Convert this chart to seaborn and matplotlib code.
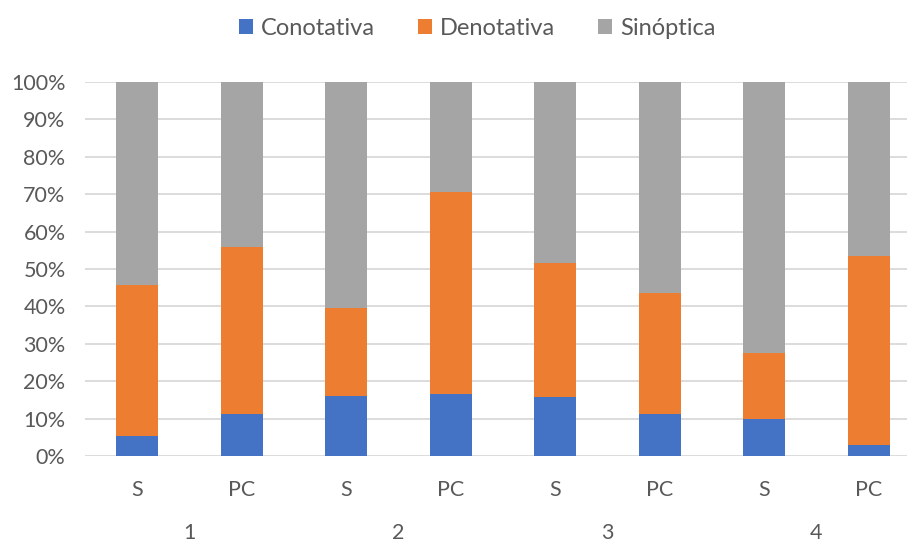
import matplotlib
matplotlib.use("Agg")
import matplotlib.pyplot as plt
from matplotlib.patches import Patch
from matplotlib.ticker import PercentFormatter
import numpy as np
import pandas as pd
import seaborn as sns

# Shares per group and respondent type (percent)
groups = ["1", "1", "2", "2", "3", "3", "4", "4"]
types = ["S", "PC", "S", "PC", "S", "PC", "S", "PC"]
conotativa = [5.4, 11.2, 16.0, 16.7, 15.7, 11.2, 9.8, 2.9]
denotativa = [40.3, 44.6, 23.7, 54.0, 35.9, 32.3, 17.7, 50.5]
sinoptica = [54.3, 44.2, 60.3, 29.3, 48.4, 56.5, 72.5, 46.6]
group_labels = ["1", "2", "3", "4"]
series_names = ["Conotativa", "Denotativa", "Sinóptica"]
colors = ["#4472C4", "#ED7D31", "#A5A5A5"]

sns.set_theme(style="white")
plt.rcParams["font.family"] = ["Lato", "DejaVu Sans"]
text_color = "#595959"

df = pd.DataFrame({
    "pos": range(len(types)),
    "group": groups,
    "type": types,
    "Conotativa": conotativa,
    "Denotativa": denotativa,
    "Sinóptica": sinoptica,
})
totals = df[series_names].sum(axis=1)
shares = df[series_names].div(totals, axis=0)
cum = shares.cumsum(axis=1)

fig = plt.figure(figsize=(9.07, 5.42), dpi=100)
ax = fig.add_axes([85 / 907, 86 / 542, 836 / 907, 374 / 542])

# Draw stacks from the top layer down so lower segments overlay upper ones
for name, color in reversed(list(zip(series_names, colors))):
    sns.barplot(x=df["pos"], y=cum[name], color=color, width=0.4,
                saturation=1, linewidth=0, edgecolor="none", ax=ax, zorder=3)

ax.set_ylim(0, 1)
ax.set_xlim(-0.5, 7.5)
ax.yaxis.set_major_locator(plt.MultipleLocator(0.1))
ax.yaxis.set_major_formatter(PercentFormatter(1.0, decimals=0))
ax.grid(axis="y", color="#D9D9D9", linewidth=1.3, zorder=0)
ax.set_axisbelow(True)
for side in ["top", "right", "left", "bottom"]:
    ax.spines[side].set_visible(False)
ax.set_xlabel("")
ax.set_ylabel("")
ax.set_xticks(range(len(types)))
ax.set_xticklabels(types)
ax.tick_params(axis="both", length=0, labelsize=15.5, labelcolor=text_color)
ax.tick_params(axis="x", pad=17)
ax.tick_params(axis="y", pad=14)

# Group labels beneath each S/PC pair
for i, g in enumerate(group_labels):
    ax.text(2 * i + 0.5, -0.205, g, transform=ax.get_xaxis_transform(),
            ha="center", va="center", fontsize=15.5, color=text_color)

handles = [Patch(facecolor=c, edgecolor="none") for c in colors]
fig.legend(handles, series_names, loc="center", bbox_to_anchor=(0.526, 0.947),
           ncol=3, frameon=False, fontsize=17, labelcolor=text_color,
           handlelength=0.6, handleheight=0.6, handletextpad=0.35,
           columnspacing=1.8)

fig.savefig("out.png", dpi=100)
